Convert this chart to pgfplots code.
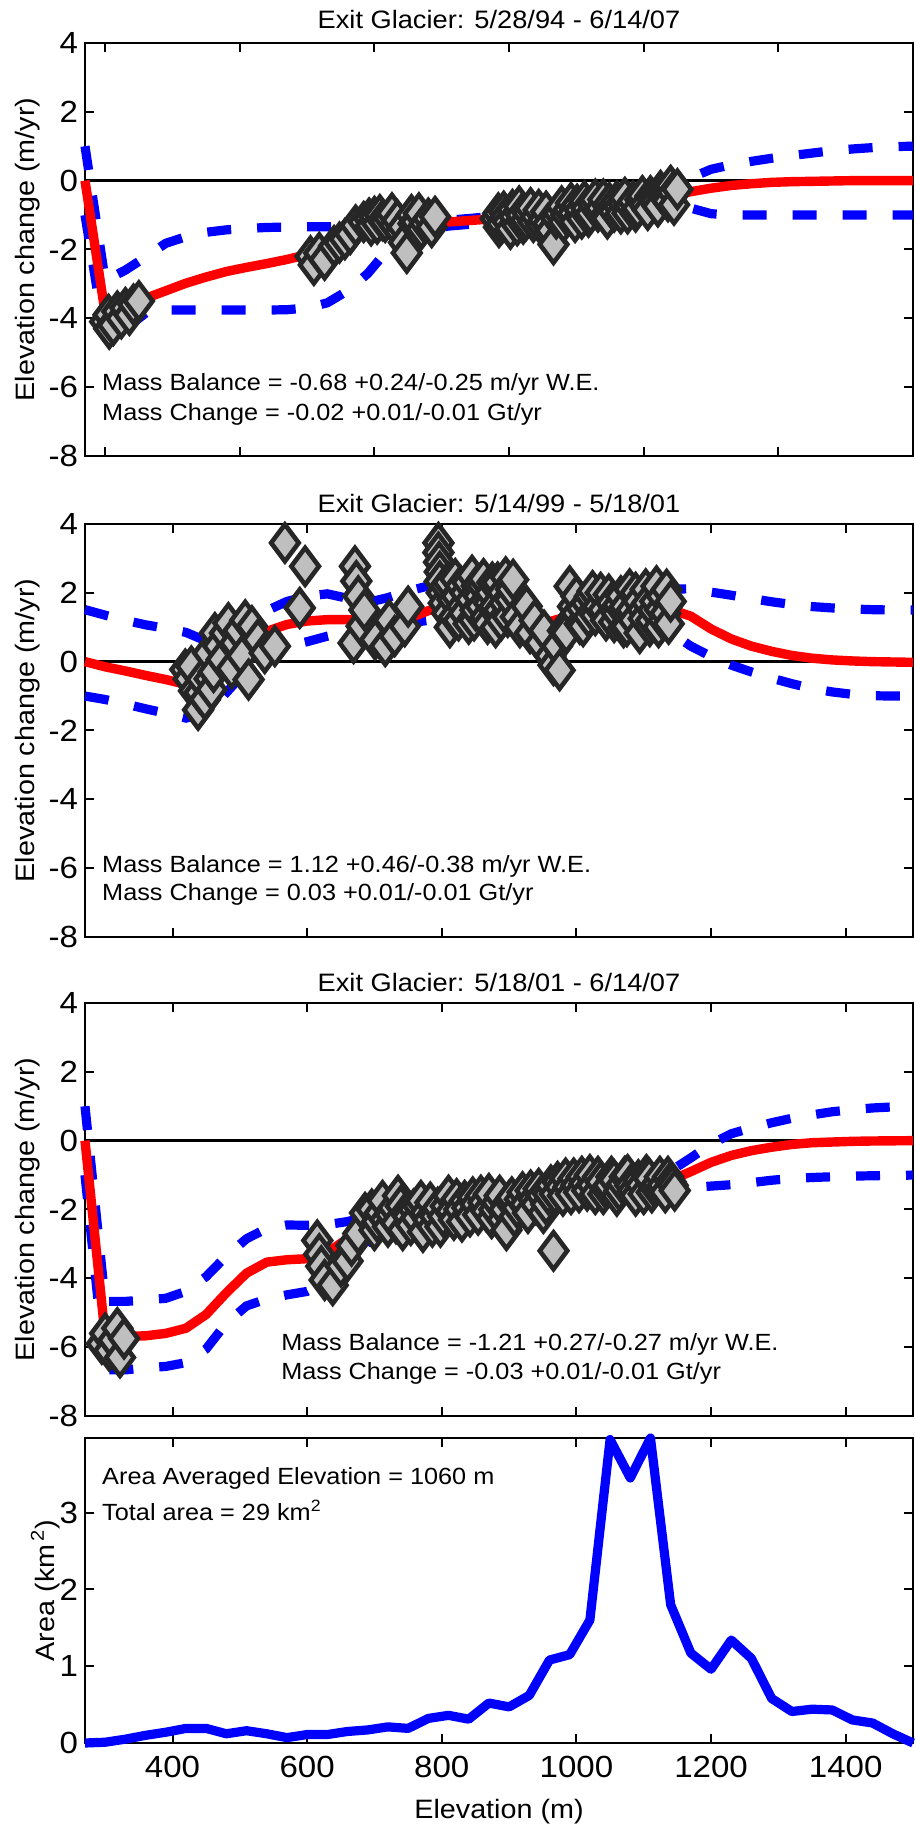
\documentclass[border=0pt]{standalone}
\usepackage{pgfplots}
\pgfplotsset{compat=1.18}
\usepackage{fontspec}
\setmainfont{Liberation Sans}[FakeStretch=1.08]

\definecolor{mkfill}{gray}{0.75}
\definecolor{mkedge}{gray}{0.15}

\tikzset{note/.style={anchor=base west, inner sep=0pt, font=\fontsize{11.7}{13}\selectfont}}

\pgfplotsset{
  panel/.style={
    scale only axis, width=414pt, height=206.5pt, anchor=south west,
    xmin=270, xmax=1500, ymin=-8, ymax=4,
    ytick={-8,-6,...,4}, xticklabels={},
    tick align=inside, major tick length=4.5pt,
    xtick pos=both, ytick pos=both,
    axis line style={line width=1pt},
    every tick/.style={black, line width=1pt},
    tick label style={font=\fontsize{15.3}{17}\selectfont},
    /pgf/number format/assume math mode=true,
    /pgf/number format/1000 sep={},
    ylabel={Elevation change (m/yr)},
    ylabel style={font=\fontsize{13.3}{15}\selectfont, at={(axis description cs:-0.069,0.5)}, anchor=center},
    every axis title/.style={font=\fontsize{12.6}{14}\selectfont, at={(0.5,1)}, anchor=base, yshift=5.8pt},
    clip=false,
  },
  zeroline/.style={black, line width=1.5pt},
  pts/.style={only marks, mark=diamond*, mark size=9.2pt,
    mark options={fill=mkfill, draw=mkedge, line width=2.3pt}},
  band/.style={blue, line width=4.6pt, dash pattern=on 12pt off 13pt},
  fit/.style={red, line width=4.7pt, line join=round},
}

\begin{document}
\begin{tikzpicture}
\useasboundingbox (0,0) rectangle (458pt,913.5pt);

% ---------------- 5/28/94 - 6/14/07 ----------------
\begin{axis}[panel, at={(42.5pt,685.5pt)}, xtick={300,500,...,1300},
  title={Exit Glacier: 5/28/94 - 6/14/07}, title style={yshift=1.4pt}]
\addplot[zeroline] coordinates {(270,0) (1500,0)};
\addplot[pts] table {
300 -4.10
305 -3.90
306 -4.30
312 -4.20
318 -3.80
324 -4.00
330 -3.70
336 -3.90
342 -3.60
350 -3.50
605 -2.20
610 -2.45
618 -2.10
626 -2.30
640 -1.90
648 -1.80
656 -1.70
664 -1.55
672 -1.30
684 -1.20
692 -1.10
695 -1.30
700 -1.05
704 -1.25
708 -1.00
712 -1.15
716 -1.20
722 -1.10
726 -0.95
730 -1.30
734 -1.15
738 -1.50
742 -1.35
744 -1.80
748 -2.10
755 -1.00
758 -1.25
762 -1.20
766 -0.95
770 -1.40
775 -1.25
780 -1.10
785 -1.35
790 -1.05
880 -1.10
884 -0.95
885 -1.35
889 -1.25
892 -0.90
895 -1.05
898 -1.20
902 -1.40
905 -0.85
908 -1.05
912 -1.30
915 -0.75
918 -1.00
921 -1.25
925 -1.15
928 -0.95
932 -0.80
936 -1.20
940 -1.05
944 -0.85
948 -1.30
951 -1.15
955 -0.90
958 -1.25
962 -1.45
966 -1.85
970 -1.10
974 -0.95
978 -0.75
981 -1.20
985 -1.00
988 -0.85
992 -0.65
995 -0.95
998 -1.20
1001 -0.70
1005 -0.85
1008 -1.10
1012 -0.60
1015 -0.80
1018 -1.05
1021 -0.95
1025 -0.70
1028 -0.55
1032 -0.90
1036 -0.80
1040 -0.55
1043 -1.00
1046 -1.10
1049 -0.65
1052 -0.80
1056 -0.90
1060 -0.60
1063 -0.75
1066 -0.95
1069 -0.65
1072 -0.50
1076 -0.95
1080 -0.75
1084 -0.60
1088 -0.90
1091 -0.80
1095 -0.55
1098 -0.45
1102 -0.70
1106 -0.85
1110 -0.45
1114 -0.55
1118 -0.60
1121 -0.75
1125 -0.30
1128 -0.40
1132 -0.50
1136 -0.60
1140 -0.15
1143 -0.35
1145 -0.70
1150 -0.25
};
\addplot[band] table {
270 1.00
300 -2.90
330 -2.60
360 -2.22
390 -1.82
420 -1.63
450 -1.50
480 -1.43
510 -1.39
540 -1.36
570 -1.35
600 -1.34
630 -1.34
660 -1.32
690 -1.29
720 -1.26
750 -1.24
780 -1.20
810 -1.15
840 -1.10
870 -1.05
900 -0.98
930 -0.93
960 -0.88
990 -0.80
1020 -0.72
1050 -0.64
1080 -0.52
1110 -0.38
1140 -0.17
1170 0.08
1200 0.33
1230 0.46
1260 0.56
1290 0.65
1320 0.73
1350 0.80
1380 0.87
1410 0.92
1440 0.96
1470 0.99
1500 1.00
};
\addplot[band] table {
270 -1.00
300 -4.60
330 -4.30
360 -3.85
390 -3.76
420 -3.76
450 -3.76
480 -3.76
510 -3.76
540 -3.76
570 -3.75
600 -3.70
630 -3.55
660 -3.20
690 -2.70
720 -2.00
750 -1.62
780 -1.42
810 -1.32
840 -1.27
870 -1.23
900 -1.20
930 -1.16
960 -1.12
990 -1.06
1020 -1.02
1050 -0.99
1080 -0.93
1110 -0.85
1140 -0.72
1170 -0.80
1200 -0.96
1230 -1.00
1260 -1.00
1500 -1.00
};
\addplot[fit] table {
270 0.00
300 -3.86
330 -3.66
360 -3.42
390 -3.20
420 -2.98
450 -2.80
480 -2.64
510 -2.52
540 -2.41
570 -2.29
600 -2.15
630 -1.97
660 -1.76
690 -1.54
720 -1.39
750 -1.31
780 -1.26
810 -1.20
840 -1.16
870 -1.12
900 -1.09
930 -1.06
960 -1.00
990 -0.93
1020 -0.88
1050 -0.83
1080 -0.74
1110 -0.62
1140 -0.45
1170 -0.32
1200 -0.22
1230 -0.14
1260 -0.09
1290 -0.05
1320 -0.03
1350 -0.02
1380 -0.01
1410 0.00
1500 0.00
};
\node[note] at (axis cs:295,-6.10) {Mass Balance = -0.68 +0.24/-0.25 m/yr W.E.};
\node[note] at (axis cs:295,-6.98) {Mass Change = -0.02 +0.01/-0.01 Gt/yr};
\end{axis}

% ---------------- 5/14/99 - 5/18/01 ----------------
\begin{axis}[panel, at={(42.5pt,445pt)}, xtick={400,600,...,1400},
  title={Exit Glacier: 5/14/99 - 5/18/01}]
\addplot[zeroline] coordinates {(270,0) (1500,0)};
\addplot[pts] table {
419 -0.23
424 -0.50
428 -0.14
432 -0.85
438 -1.40
440 -0.90
443 -0.52
448 -1.10
453 0.25
455 -0.50
458 -0.81
461 -0.30
463 0.83
468 0.45
473 0.06
478 0.83
483 1.12
488 -0.20
493 0.54
498 0.90
503 0.16
508 1.20
513 -0.52
518 1.03
527 0.64
537 0.25
552 0.45
567 3.45
597 2.77
589 1.56
669 0.54
671 2.77
673 2.34
676 1.90
681 1.03
685 1.50
701 0.64
716 0.45
722 1.20
730 0.74
745 1.03
750 1.60
795 3.45
795 3.17
796 2.89
797 2.61
797 2.33
800 2.00
803 1.70
805 2.20
808 1.40
810 2.30
812 1.00
816 1.80
818 1.30
820 2.40
822 1.90
825 1.20
828 2.20
830 1.60
833 1.40
835 2.00
838 2.30
840 1.10
843 1.80
845 2.50
848 1.20
850 1.50
852 2.20
855 1.90
858 1.60
860 2.20
862 2.40
865 1.30
868 1.10
870 1.70
872 2.00
875 2.30
878 1.60
880 1.00
883 2.30
885 1.50
888 1.20
890 2.00
893 1.70
895 2.45
898 1.30
901 1.80
903 2.10
906 2.38
910 1.30
916 1.00
926 1.61
931 0.83
938 1.20
946 0.54
952 0.90
961 0.16
966 -0.10
971 0.45
975 -0.25
980 0.90
985 0.83
990 2.19
995 1.60
1000 1.41
1000 1.90
1005 1.10
1008 1.55
1010 1.03
1015 1.70
1018 1.30
1020 1.90
1024 2.05
1028 1.35
1032 1.60
1036 2.00
1040 1.50
1044 1.20
1048 1.95
1052 1.70
1056 1.15
1060 1.40
1062 1.65
1066 1.90
1070 1.00
1072 1.60
1075 1.03
1079 2.10
1082 1.50
1085 1.20
1088 2.00
1092 1.75
1094 0.83
1098 1.50
1100 1.25
1103 2.10
1105 1.70
1109 1.03
1111 1.20
1114 1.50
1117 1.75
1119 2.19
1122 1.00
1124 1.51
1127 1.90
1129 1.20
1132 1.40
1134 2.09
1137 1.10
1140 1.75
};
\addplot[band] table {
270 1.51
300 1.35
330 1.20
360 1.07
390 0.97
420 0.85
450 0.60
480 0.72
510 1.08
540 1.48
570 1.75
600 1.90
630 1.97
660 1.84
690 1.72
720 1.86
750 2.05
780 2.20
810 2.15
840 2.00
870 1.93
900 1.80
930 1.62
960 1.55
990 1.70
1020 1.85
1050 1.88
1080 1.90
1110 1.98
1140 2.10
1170 2.12
1200 2.02
1230 1.93
1260 1.83
1290 1.74
1320 1.66
1350 1.60
1380 1.56
1410 1.53
1440 1.51
1470 1.50
1500 1.50
};
\addplot[band] table {
270 -1.00
300 -1.10
330 -1.23
360 -1.37
390 -1.50
420 -1.64
450 -1.50
480 -0.90
510 -0.25
540 0.30
570 0.45
600 0.58
630 0.74
660 0.87
690 0.85
720 1.02
750 1.12
780 1.20
810 1.27
840 1.42
870 1.50
900 1.45
930 1.08
960 0.90
990 1.15
1020 1.45
1050 1.48
1080 1.35
1110 1.15
1140 0.85
1170 0.45
1200 0.15
1230 -0.10
1260 -0.30
1290 -0.48
1320 -0.64
1350 -0.78
1380 -0.88
1410 -0.95
1440 -0.99
1470 -1.00
1500 -1.00
};
\addplot[fit] table {
270 0.00
300 -0.15
330 -0.27
360 -0.40
390 -0.52
420 -0.66
450 -0.45
480 0.00
510 0.48
540 0.88
570 1.08
600 1.18
630 1.22
660 1.22
690 1.18
720 1.14
750 1.25
780 1.48
810 1.64
840 1.70
870 1.70
900 1.52
930 1.25
960 1.16
990 1.33
1020 1.60
1050 1.63
1080 1.59
1110 1.57
1140 1.52
1170 1.32
1200 0.95
1230 0.66
1260 0.45
1290 0.30
1320 0.18
1350 0.10
1380 0.05
1410 0.02
1440 0.00
1500 -0.02
};
\node[note] at (axis cs:295,-6.13) {Mass Balance = 1.12 +0.46/-0.38 m/yr W.E.};
\node[note] at (axis cs:295,-6.95) {Mass Change = 0.03 +0.01/-0.01 Gt/yr};
\end{axis}

% ---------------- 5/18/01 - 6/14/07 ----------------
\begin{axis}[panel, at={(42.5pt,205.5pt)}, xtick={400,600,...,1400},
  title={Exit Glacier: 5/18/01 - 6/14/07}]
\addplot[zeroline] coordinates {(270,0) (1500,0)};
\addplot[pts] table {
295 -5.90
300 -5.60
306 -6.10
312 -5.80
318 -5.45
322 -6.30
328 -5.75
615 -2.90
618 -3.30
621 -3.65
626 -4.05
638 -4.20
650 -3.65
660 -3.50
666 -3.05
676 -2.70
686 -2.10
696 -2.00
700 -2.60
704 -2.35
708 -2.10
712 -1.75
716 -2.30
720 -2.50
724 -2.15
728 -1.95
732 -2.40
735 -1.60
739 -1.90
742 -2.60
746 -2.10
750 -2.20
754 -2.45
758 -2.00
762 -2.25
765 -1.90
769 -1.75
772 -2.65
776 -2.10
780 -2.30
783 -1.80
786 -2.50
790 -2.20
794 -1.95
798 -2.50
802 -2.20
806 -1.90
810 -1.60
814 -2.05
818 -2.30
822 -1.70
826 -2.00
830 -2.35
834 -1.75
838 -1.95
842 -2.20
846 -1.65
850 -1.85
854 -2.15
858 -1.60
862 -1.80
866 -2.05
870 -1.55
874 -2.25
878 -2.00
882 -1.80
886 -1.60
890 -2.30
893 -2.00
896 -2.60
900 -1.75
904 -1.65
908 -2.20
912 -1.95
916 -1.70
920 -1.50
924 -1.85
928 -2.10
932 -1.45
936 -1.70
940 -1.85
944 -1.40
948 -1.60
951 -2.10
955 -1.85
958 -1.55
962 -1.30
966 -3.20
968 -1.55
972 -1.20
976 -1.35
980 -1.60
984 -1.10
988 -1.35
992 -1.55
996 -1.10
1000 -1.30
1004 -1.50
1008 -1.05
1012 -1.25
1016 -1.45
1020 -1.00
1024 -1.30
1028 -1.55
1032 -1.05
1036 -1.20
1040 -1.55
1044 -1.40
1048 -1.30
1052 -1.05
1056 -1.15
1060 -1.60
1064 -1.45
1068 -1.25
1072 -1.05
1076 -1.00
1080 -1.30
1084 -1.45
1088 -1.60
1092 -1.15
1096 -1.30
1100 -1.55
1104 -1.00
1108 -1.10
1112 -1.50
1116 -1.35
1120 -1.25
1124 -1.05
1128 -1.30
1132 -1.50
1136 -1.05
1140 -1.20
1143 -1.30
1146 -1.45
};
\addplot[band] table {
270 1.00
300 -4.67
330 -4.67
360 -4.63
390 -4.58
420 -4.38
450 -3.95
480 -3.35
510 -2.85
540 -2.55
570 -2.45
600 -2.46
630 -2.44
660 -2.35
690 -2.20
720 -2.12
750 -2.08
780 -2.02
810 -1.92
840 -1.82
870 -1.78
900 -1.75
930 -1.62
960 -1.38
990 -1.18
1020 -1.10
1050 -1.10
1080 -1.08
1110 -1.03
1140 -0.88
1170 -0.50
1200 -0.10
1230 0.20
1260 0.37
1290 0.52
1320 0.65
1350 0.75
1380 0.84
1410 0.90
1440 0.95
1470 0.98
1500 1.00
};
\addplot[band] table {
270 -1.00
300 -6.66
330 -6.66
360 -6.60
390 -6.56
420 -6.45
450 -6.05
480 -5.30
510 -4.80
540 -4.60
570 -4.48
600 -4.38
630 -4.10
660 -3.55
690 -2.95
720 -2.55
750 -2.50
780 -2.43
810 -2.30
840 -2.20
870 -2.12
900 -2.10
930 -2.00
960 -1.75
990 -1.55
1020 -1.45
1050 -1.43
1080 -1.42
1110 -1.41
1140 -1.40
1170 -1.36
1200 -1.32
1230 -1.28
1260 -1.22
1290 -1.15
1320 -1.10
1350 -1.07
1380 -1.05
1410 -1.03
1440 -1.02
1500 -1.00
};
\addplot[fit] table {
270 0.00
300 -5.69
330 -5.69
360 -5.67
390 -5.60
420 -5.45
450 -5.05
480 -4.42
510 -3.85
540 -3.53
570 -3.46
600 -3.43
630 -3.25
660 -2.85
690 -2.50
720 -2.36
750 -2.31
780 -2.25
810 -2.13
840 -2.02
870 -1.96
900 -1.93
930 -1.82
960 -1.56
990 -1.36
1020 -1.28
1050 -1.27
1080 -1.26
1110 -1.23
1140 -1.15
1170 -0.90
1200 -0.63
1230 -0.43
1260 -0.29
1290 -0.19
1320 -0.11
1350 -0.06
1380 -0.04
1410 -0.02
1440 -0.01
1500 0.00
};
\node[note] at (axis cs:561,-6.10) {Mass Balance = -1.21 +0.27/-0.27 m/yr W.E.};
\node[note] at (axis cs:561,-6.95) {Mass Change = -0.03 +0.01/-0.01 Gt/yr};
\end{axis}

% ---------------- area by elevation ----------------
\begin{axis}[panel, at={(42.5pt,42pt)}, height=152.5pt,
  ymin=0, ymax=3.97, ytick={0,1,2,3}, xtick={400,600,...,1400},
  xticklabels={400,600,800,1000,1200,1400},
  xticklabel style={yshift=-3pt},
  ylabel={Area (km\textsuperscript{\,2})},
  ylabel style={at={(axis description cs:-0.048,0.5)}},
  xlabel={Elevation (m)},
  xlabel style={font=\fontsize{13.3}{15}\selectfont, at={(axis description cs:0.5,-0.226)}, anchor=center}]
\addplot[blue, line width=4.6pt, line join=round] table {
270 0.00
300 0.01
330 0.05
360 0.10
390 0.14
420 0.19
450 0.19
480 0.12
510 0.16
540 0.12
570 0.07
600 0.11
630 0.11
660 0.15
690 0.17
720 0.21
750 0.19
780 0.32
810 0.36
840 0.31
870 0.52
900 0.47
930 0.62
960 1.08
990 1.15
1020 1.60
1050 3.95
1080 3.45
1110 3.97
1140 1.80
1170 1.17
1200 0.96
1230 1.34
1260 1.10
1290 0.58
1320 0.41
1350 0.44
1380 0.43
1410 0.30
1440 0.26
1470 0.12
1500 0.00
};
\node[note] at (axis cs:295,3.36) {Area Averaged Elevation = 1060 m};
\node[note] at (axis cs:295,2.90) {Total area = 29 km\textsuperscript{2}};
\end{axis}
\end{tikzpicture}
\end{document}
